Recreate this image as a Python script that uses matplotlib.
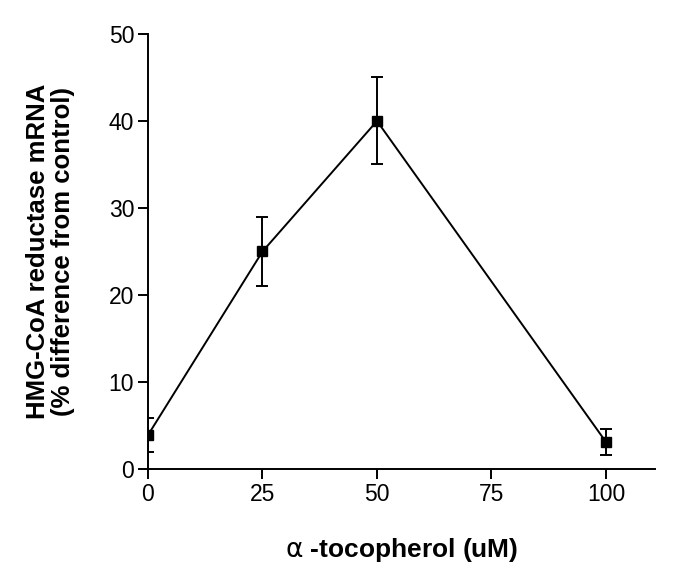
import matplotlib
matplotlib.use("Agg")
import matplotlib.pyplot as plt

plt.rcParams['font.family'] = ['Liberation Sans', 'DejaVu Sans']

conc = [0, 25, 50, 100]
mrna = [3.9, 25.0, 40.0, 3.1]
err = [2.0, 4.0, 5.0, 1.5]
xticks = [0, 25, 50, 75, 100]
yticks = [0, 10, 20, 30, 40, 50]

fig = plt.figure(figsize=(6.85, 5.81), dpi=100)
ax = fig.add_axes([148/685, 1-469/581, (655-148)/685, (469-34)/581])

ax.errorbar(conc, mrna, yerr=err, color='black', lw=1.4, marker='s', ms=6.5,
            capsize=4, elinewidth=1.4, capthick=1.4)

ax.set_xlim(0, 110.7)
ax.set_ylim(0, 50)
ax.set_xticks(xticks)
ax.set_yticks(yticks)
for s in ['top', 'right']:
    ax.spines[s].set_visible(False)
for s in ['left', 'bottom']:
    ax.spines[s].set_linewidth(1.4)
ax.tick_params(direction='out', length=7, width=1.4, labelsize=16.5, pad=3)

ax.set_xlabel(r"$\mathrm{\alpha}$ -tocopherol (uM)", fontsize=19, fontweight='bold', labelpad=22)
ax.set_ylabel("HMG-CoA reductase mRNA\n(% difference from control)", fontsize=18.5,
              fontweight='bold', labelpad=24, linespacing=1.05)

fig.savefig("out.png", dpi=100)
